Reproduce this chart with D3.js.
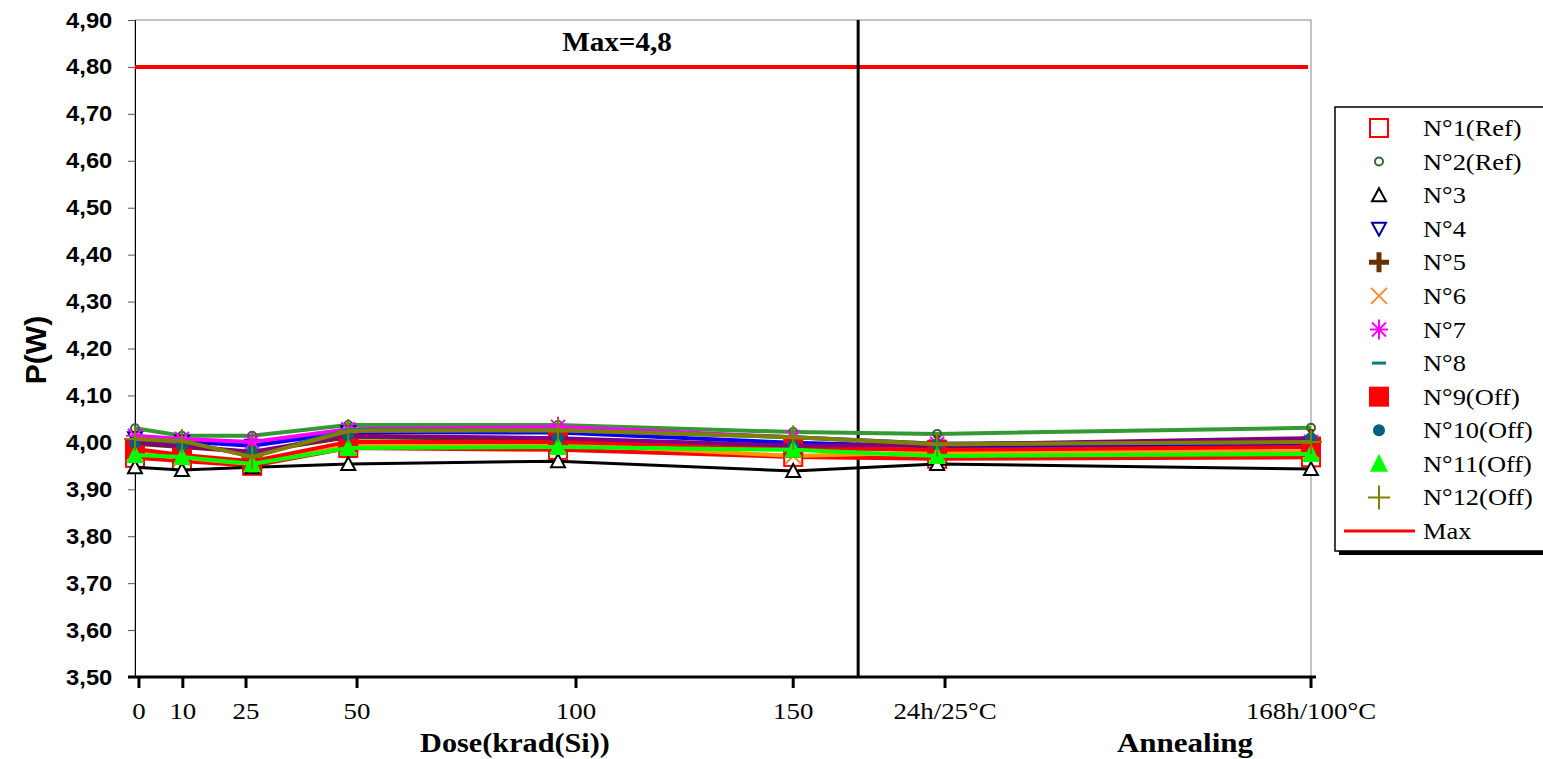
<!DOCTYPE html>
<html>
<head>
<meta charset="utf-8">
<script src="https://cdn.jsdelivr.net/npm/d3@7"></script>
<style>
body{margin:0;background:#fff}
svg{display:block}
</style>
</head>
<body>
<div id="container"></div>
<script>
// dose points (krad(Si)), annealing steps placed after the last dose
var doses = [0, 10.7, 26.7, 48.6, 96.4, 150, 182.8, 268]
var tickPos = [0.9, 10.9, 25.3, 50.6, 100.5, 150, 184.6, 268]
var tickLabels = ["0", "10", "25", "50", "100", "150", "24h/25\u00b0C", "168h/100\u00b0C"]
var annealStart = 164.8
var maxP = 4.8

var names = ["N\u00b01(Ref)","N\u00b02(Ref)","N\u00b03","N\u00b04","N\u00b05","N\u00b06","N\u00b07","N\u00b08","N\u00b09(Off)","N\u00b010(Off)","N\u00b011(Off)","N\u00b012(Off)"]
var s1  = [3.967,3.960,3.950,3.988,3.984,3.969,3.965,3.968]
var s2  = [4.030,4.014,4.014,4.037,4.037,4.022,4.018,4.031]
var s3  = [3.947,3.941,3.947,3.954,3.960,3.939,3.954,3.943]
var s4  = [4.009,4.002,3.993,4.022,4.021,3.999,3.991,3.993]
var s5  = [3.997,3.990,3.979,4.011,4.007,3.992,3.994,4.007]
var s6  = [3.977,3.967,3.954,3.992,3.997,3.971,3.979,3.981]
var s7  = [4.014,4.007,4.001,4.028,4.033,4.011,3.997,4.001]
var s8  = [4.005,4.001,3.971,4.026,4.026,4.011,3.997,4.001]
var s9  = [3.986,3.973,3.960,4.001,4.001,3.988,3.984,3.990]
var s10 = [3.999,3.992,3.980,4.014,4.009,3.993,3.995,4.009]
var s11 = [3.973,3.969,3.954,3.988,3.990,3.984,3.971,3.975]
var s12 = [4.007,4.003,3.969,4.024,4.026,4.011,3.996,4.001]
var allSeries = [s1,s2,s3,s4,s5,s6,s7,s8,s9,s10,s11,s12]

var lineColors = ["#ff0000","#339933","#000000","#0000ff","#663300","#ff9900","#ff00ff","#008080","#ff0000","#800080","#00ff00","#808000"]
var markerColors = ["#ff0000","#336633","#000000","#000099","#663300","#ff8833","#ff00ff","#008080","#ff0000","#006080","#00ff00","#808000"]
var markerTypes = ["sqOpen","circOpen","triOpen","triDown","plusBold","cross","star","dash","sqFill","circFill","triFill","plus"]

var w = 1543, h = 759
var pLeft = 135, pTop = 20, pRight = 1311, pBottom = 677
var serif = "Liberation Serif, Times New Roman, serif"
var sans = "Liberation Sans, Arial, sans-serif"

var svg = d3.select("#container").append("svg").attr("width",w).attr("height",h)

var xScale = d3.scaleLinear().domain([0,268]).range([pLeft,pRight])
var yScale = d3.scaleLinear().domain([3.5,4.9]).range([pBottom,pTop])
var comma = d3.formatLocale({decimal:",",thousands:".",grouping:[3],currency:["",""]}).format(".2f")

// stretched text, the original rendering is a bit wider than the fonts here
function wideText(g, str, x, y, size, bold, anchor, sx){
    return g.append("text").text(str)
        .attr("transform","translate("+x+","+y+") scale("+sx+",1)")
        .attr("text-anchor",anchor).attr("font-family",serif)
        .attr("font-weight",bold?"bold":"normal").attr("font-size",size).attr("fill","#000")
}

// plot frame
svg.append("rect").attr("x",pLeft).attr("y",pTop).attr("width",pRight-pLeft).attr("height",pBottom-pTop)
    .attr("fill","none").attr("stroke","#888").attr("stroke-width",1)

var yAxis = d3.axisLeft(yScale).tickValues(d3.range(3.5,4.91,0.1)).tickFormat(comma).tickSize(7).tickPadding(13)
var gy = svg.append("g").attr("transform","translate("+pLeft+",0)").call(yAxis)
gy.selectAll("text").attr("font-family",sans).attr("font-weight","bold").attr("font-size",22).attr("fill","#000")
    .attr("transform","scale(1.08,1)").attr("dx",-1)
gy.selectAll("line").attr("stroke","#555")
gy.select(".domain").attr("stroke","#000")

// max line
svg.append("line").attr("x1",pLeft).attr("x2",pRight-3).attr("y1",yScale(maxP)).attr("y2",yScale(maxP))
    .attr("stroke","#ff0000").attr("stroke-width",4)
wideText(svg,"Max=4,8",617,51,27,true,"middle",1.08)

// separator between dose and annealing
svg.append("line").attr("x1",xScale(annealStart)).attr("x2",xScale(annealStart)).attr("y1",pTop).attr("y2",pBottom)
    .attr("stroke","#000").attr("stroke-width",3)

function drawMarker(g, type, color, x, y){
    if(type=="sqOpen"){
        g.append("rect").attr("x",x-9).attr("y",y-9).attr("width",18).attr("height",18).attr("fill","#fff").attr("stroke",color).attr("stroke-width",2)
    }else if(type=="sqFill"){
        g.append("rect").attr("x",x-10).attr("y",y-10).attr("width",20).attr("height",20).attr("fill",color)
    }else if(type=="circOpen"){
        g.append("circle").attr("cx",x).attr("cy",y).attr("r",4).attr("fill","none").attr("stroke",color).attr("stroke-width",2)
    }else if(type=="circFill"){
        g.append("circle").attr("cx",x).attr("cy",y).attr("r",6).attr("fill",color)
    }else if(type=="triOpen"){
        g.append("path").attr("d","M"+x+","+(y-7)+"L"+(x+7)+","+(y+6)+"L"+(x-7)+","+(y+6)+"Z").attr("fill","#fff").attr("stroke",color).attr("stroke-width",2)
    }else if(type=="triDown"){
        g.append("path").attr("d","M"+x+","+(y+7)+"L"+(x+7)+","+(y-6)+"L"+(x-7)+","+(y-6)+"Z").attr("fill","#fff").attr("stroke",color).attr("stroke-width",2)
    }else if(type=="triFill"){
        g.append("path").attr("d","M"+x+","+(y-10)+"L"+(x+9)+","+(y+8)+"L"+(x-9)+","+(y+8)+"Z").attr("fill",color)
    }else if(type=="plusBold"){
        g.append("path").attr("d","M"+(x-10)+","+y+"H"+(x+10)+"M"+x+","+(y-10)+"V"+(y+10)).attr("stroke",color).attr("stroke-width",5)
    }else if(type=="plus"){
        g.append("path").attr("d","M"+(x-11)+","+y+"H"+(x+11)+"M"+x+","+(y-12)+"V"+(y+12)).attr("stroke",color).attr("stroke-width",2)
    }else if(type=="cross"){
        g.append("path").attr("d","M"+(x-8)+","+(y-8)+"L"+(x+8)+","+(y+8)+"M"+(x+8)+","+(y-8)+"L"+(x-8)+","+(y+8)).attr("stroke",color).attr("stroke-width",2)
    }else if(type=="star"){
        g.append("path").attr("d","M"+(x-9)+","+y+"H"+(x+9)+"M"+x+","+(y-10)+"V"+(y+10)+"M"+(x-7)+","+(y-7)+"L"+(x+7)+","+(y+7)+"M"+(x+7)+","+(y-7)+"L"+(x-7)+","+(y+7)).attr("stroke",color).attr("stroke-width",2)
    }else if(type=="dash"){
        g.append("path").attr("d","M"+(x-7)+","+y+"H"+(x+7)).attr("stroke",color).attr("stroke-width",3)
    }
}

var line = d3.line().x(function(d,i){return xScale(doses[i])}).y(function(d){return yScale(d)})

var plot = svg.append("g")
for(var s in allSeries){
    var vals = allSeries[s]
    plot.append("path").attr("d",line(vals)).attr("fill","none")
        .attr("stroke",lineColors[s]).attr("stroke-width",s==2?3:4).attr("stroke-linejoin","round")
    for(var i in vals){
        drawMarker(plot, markerTypes[s], markerColors[s], xScale(doses[i]), yScale(vals[i]))
    }
}

// x axis
var xAxis = d3.axisBottom(xScale).tickValues(tickPos).tickFormat(function(d,i){return tickLabels[i]}).tickSize(11).tickPadding(14)
var gx = svg.append("g").attr("transform","translate(0,"+pBottom+")").call(xAxis)
gx.select(".domain").attr("d","M"+(pLeft-7)+",0H"+(pRight+5)).attr("stroke","#000").attr("stroke-width",3)
gx.selectAll("line").attr("stroke","#000").attr("stroke-width",3)
gx.selectAll("text").attr("font-family",serif).attr("font-size",24).attr("fill","#000")
    .attr("transform","scale(1.12,1)")
gx.selectAll(".tick").each(function(d){
    d3.select(this).attr("transform","translate("+xScale(d)+",0)")
})
// scale() on text scales its x too, so put x back
gx.selectAll(".tick text").attr("x",0)

wideText(svg,"Dose(krad(Si))",515,752,27,true,"middle",1.12)
wideText(svg,"Annealing",1185,752,27,true,"middle",1.15)
svg.append("text").text("P(W)").attr("transform","translate(46,350) rotate(-90)").attr("text-anchor","middle")
    .attr("font-family",sans).attr("font-weight","bold").attr("font-size",30)

// legend
var lg = svg.append("g")
lg.append("rect").attr("x",1339).attr("y",111).attr("width",220).attr("height",444).attr("fill","#000")
lg.append("rect").attr("x",1335).attr("y",107).attr("width",220).attr("height",444).attr("fill","#fff").attr("stroke","#000").attr("stroke-width",1.5)
var legY = d3.scaleLinear().domain([0,12]).range([128,531])
for(var k in names){
    drawMarker(lg, markerTypes[k], markerColors[k], 1379, legY(+k))
    wideText(lg, names[k], 1423, legY(+k)+8, 23, false, "start", 1.15)
}
lg.append("line").attr("x1",1344).attr("x2",1415).attr("y1",legY(12)).attr("y2",legY(12)).attr("stroke","#ff0000").attr("stroke-width",3)
wideText(lg, "Max", 1423, legY(12)+8, 23, false, "start", 1.15)
</script>
</body>
</html>
